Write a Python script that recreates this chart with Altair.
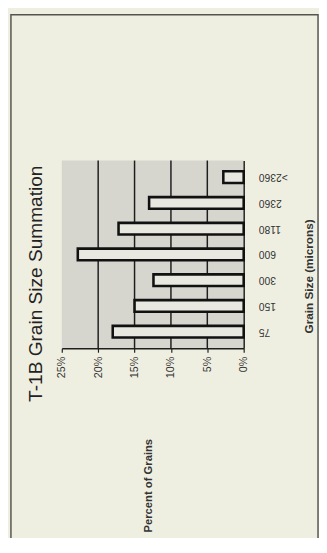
import altair as alt
import pandas as pd

# ---- data ----
categories = ["75", "150", "300", "600", "1180", "2360", ">2360"]
percent = [18.0, 15.0, 12.4, 22.8, 17.2, 13.0, 2.8]
grid_values = [5, 10, 15, 20]
tick_values = [0, 5, 10, 15, 20, 25]
order_top_to_bottom = list(reversed(categories))

df = pd.DataFrame({"size": categories, "pct": percent})
grid_df = pd.DataFrame({"g": grid_values})
frame_df = pd.DataFrame({"k": [0]})

FONT = "Liberation Sans"
INK = "#1e1e1e"

x_scale = alt.Scale(domain=[0, 25], reverse=True, nice=False, zero=True)

x_axis = alt.Axis(
    values=tick_values,
    labelExpr="datum.value + '%'",
    grid=False,
    domain=True, domainColor=INK, domainWidth=1.5,
    ticks=True, tickColor=INK, tickSize=4, tickWidth=1.2,
    labelAngle=270, labelAlign="right", labelBaseline="middle",
    labelPadding=4, labelFlush=False, labelOverlap=False,
    labelFont=FONT, labelFontSize=11, labelColor="#333333",
    title="Percent of Grains", titleFont=FONT, titleFontSize=11.5,
    titleFontWeight="bold", titleColor="#333333",
    titleAngle=270, titleAlign="center", titleBaseline="middle",
    titleX=89, titleY=140,
)

y_axis = alt.Axis(
    orient="right",
    labelAngle=180, labelAlign="right", labelBaseline="middle",
    labelPadding=15, ticks=False,
    domain=True, domainColor=INK, domainWidth=1.5,
    labelFont=FONT, labelFontSize=10.5, labelColor="#333333",
    title="Grain Size (microns)", titleFont=FONT, titleFontSize=12,
    titleFontWeight="bold", titleColor="#333333",
    titleAngle=270, titleAlign="center", titleBaseline="middle",
    titleX=66, titleY=118,
)

frame = alt.Chart(frame_df).mark_rect(
    fillOpacity=0, stroke="#55554f", strokeWidth=1.5
).encode(
    x=alt.value(-52), x2=alt.value(262), y=alt.value(-149), y2=alt.value(420)
)

grid = alt.Chart(grid_df).mark_rule(color=INK, strokeWidth=1.5).encode(
    x=alt.X("g:Q", scale=x_scale, axis=x_axis)
)

bars = alt.Chart(df).mark_bar(
    fill="#e8e8e0", stroke="#111111", strokeWidth=2.6
).encode(
    x=alt.X("pct:Q", scale=x_scale, axis=x_axis),
    y=alt.Y(
        "size:N",
        sort=order_top_to_bottom,
        scale=alt.Scale(domain=order_top_to_bottom, paddingInner=0.55, paddingOuter=0.42),
        axis=y_axis,
    ),
)

chart = alt.layer(frame, grid, bars).properties(
    width=186,
    height=192,
    autosize=alt.AutoSizeParams(type="none"),
    padding={"left": 55, "top": 150, "right": 77, "bottom": 188},
    background="#efefe1",
    title=alt.TitleParams(
        "T-1B Grain Size Summation",
        orient="left", anchor="middle", frame="group",
        angle=270, font=FONT, fontSize=19.5, fontWeight="normal",
        color="#222222", offset=-37, dx=-30,
    ),
).configure_view(fill="#d6d6ce", strokeWidth=0)

chart.save("out.html", embed_options={"renderer": "svg", "actions": False})
